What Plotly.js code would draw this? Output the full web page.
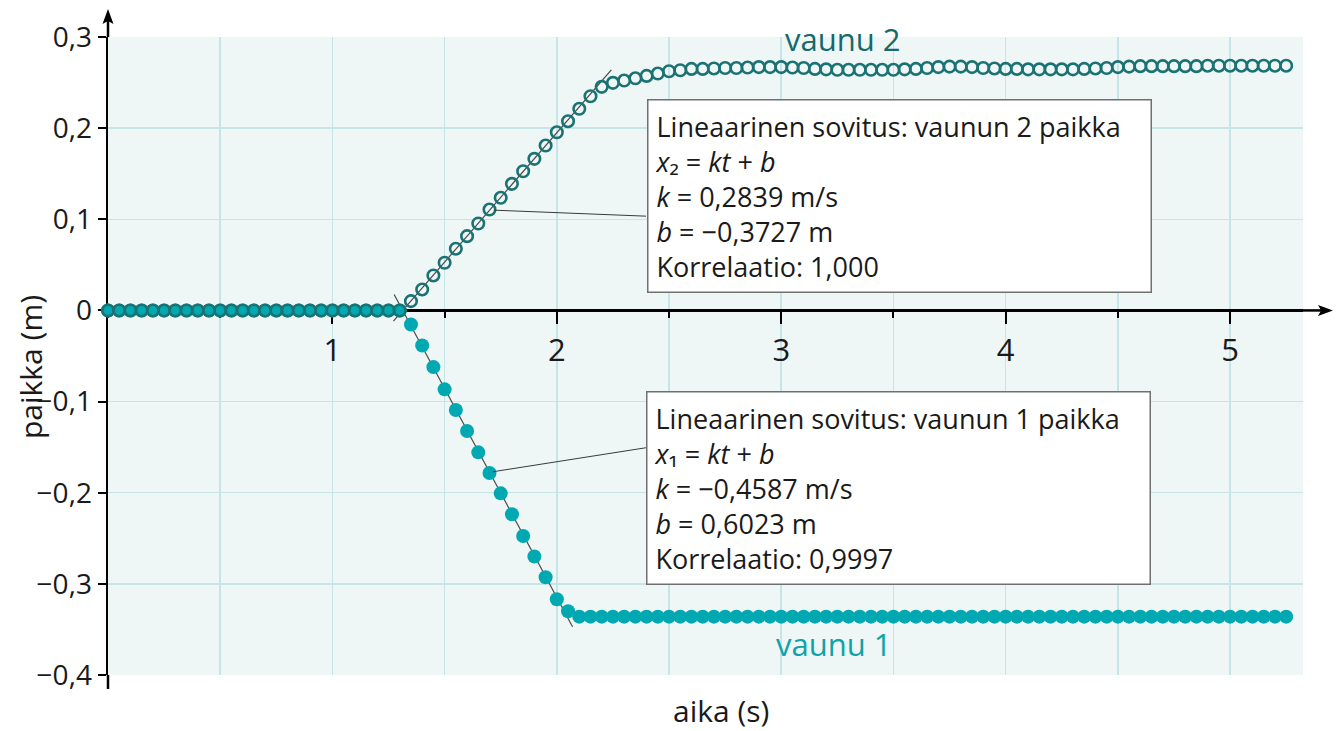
<!DOCTYPE html>
<html>
<head>
<meta charset="utf-8">
<script src="https://cdn.plot.ly/plotly-3.0.1.min.js"></script>
<style>html,body{margin:0;padding:0;background:#fff;}#chart{width:1342px;height:731px;}</style>
</head>
<body>
<div id="chart"></div>
<script>
// time (s), sampled every 0.05 s
const time = [
 0.00,0.05,0.10,0.15,0.20,0.25,0.30,0.35,0.40,0.45,0.50,0.55,0.60,0.65,0.70,0.75,0.80,0.85,0.90,0.95,
 1.00,1.05,1.10,1.15,1.20,1.25,1.30,1.35,1.40,1.45,1.50,1.55,1.60,1.65,1.70,1.75,1.80,1.85,1.90,1.95,
 2.00,2.05,2.10,2.15,2.20,2.25,2.30,2.35,2.40,2.45,2.50,2.55,2.60,2.65,2.70,2.75,2.80,2.85,2.90,2.95,
 3.00,3.05,3.10,3.15,3.20,3.25,3.30,3.35,3.40,3.45,3.50,3.55,3.60,3.65,3.70,3.75,3.80,3.85,3.90,3.95,
 4.00,4.05,4.10,4.15,4.20,4.25,4.30,4.35,4.40,4.45,4.50,4.55,4.60,4.65,4.70,4.75,4.80,4.85,4.90,4.95,
 5.00,5.05,5.10,5.15,5.20,5.25
];
// vaunu 1 position (m)
const vaunu1 = [
 0,0,0,0,0,0,0,0,0,0,0,0,0,0,0,0,0,0,0,0,
 0,0,0,0,0,0,0,-0.0155,-0.0385,-0.0622,-0.0866,-0.1093,-0.1323,-0.1557,-0.1784,-0.2007,-0.2237,-0.2475,-0.2700,-0.2928,
 -0.3169,-0.3300,-0.336,-0.336,-0.336,-0.336,-0.336,-0.336,-0.336,-0.336,-0.336,-0.336,-0.336,-0.336,-0.336,-0.336,-0.336,-0.336,-0.336,-0.336,
 -0.336,-0.336,-0.336,-0.336,-0.336,-0.336,-0.336,-0.336,-0.336,-0.336,-0.336,-0.336,-0.336,-0.336,-0.336,-0.336,-0.336,-0.336,-0.336,-0.336,
 -0.336,-0.336,-0.336,-0.336,-0.336,-0.336,-0.336,-0.336,-0.336,-0.336,-0.336,-0.336,-0.336,-0.336,-0.336,-0.336,-0.336,-0.336,-0.336,-0.336,
 -0.336,-0.336,-0.336,-0.336,-0.336,-0.336
];
// vaunu 2 position (m)
const vaunu2 = [
 0,0,0,0,0,0,0,0,0,0,0,0,0,0,0,0,0,0,0,0,
 0,0,0,0,0,0,0,0.0102,0.0230,0.0384,0.0523,0.0677,0.0815,0.0954,0.1107,0.1236,0.1389,0.1527,0.1663,0.1809,
 0.1955,0.2076,0.2212,0.2350,0.2453,0.2497,0.2522,0.2547,0.2573,0.2599,0.2624,0.2635,0.265,0.265,0.2655,0.266,0.266,0.2665,0.267,0.267,
 0.267,0.2665,0.266,0.265,0.2645,0.264,0.264,0.264,0.264,0.264,0.264,0.2645,0.265,0.266,0.267,0.2675,0.2675,0.267,0.266,0.2655,
 0.265,0.265,0.2645,0.2645,0.2645,0.2645,0.2645,0.265,0.2655,0.266,0.267,0.2675,0.268,0.268,0.268,0.268,0.268,0.268,0.2685,0.2685,
 0.2685,0.2685,0.2685,0.2685,0.2685,0.2685
];
// fitted lines (end points)
const fit1T = [1.275, 2.07];
const fit1X = [0.0175, -0.347];
const fit2T = [1.272, 2.243];
const fit2X = [-0.0117, 0.264];
// fit results
const fit1Params = ['−0,4587', '0,6023', '0,9997'];
const fit2Params = ['0,2839', '−0,3727', '1,000'];
const subscripts = {1: '₁', 2: '₂'};
// axis ticks
const xTickVals = [1, 2, 3, 4, 5];
const xTickText = ['1', '2', '3', '4', '5'];
const yTickVals = [0.3, 0.2, 0.1, 0, -0.1, -0.2, -0.3, -0.4];
const yTickText = ['0,3', '0,2', '0,1', '0', '−0,1', '−0,2', '−0,3', '−0,4'];

const C1 = '#00a9b1';
const C2 = '#1b7273';
const GRID = '#c6e5e8';
const FONT = 'Open Sans, Noto Sans, sans-serif';
const TXT = '#1a1a1a';

const traces = [
  {x: fit1T, y: fit1X, mode: 'lines', line: {color: '#4a4a4a', width: 1.2}, hoverinfo: 'skip', cliponaxis: false},
  {x: fit2T, y: fit2X, mode: 'lines', line: {color: '#4a4a4a', width: 1.2}, hoverinfo: 'skip', cliponaxis: false},
  {x: time, y: vaunu1, name: 'vaunu 1', mode: 'markers', cliponaxis: false,
   marker: {symbol: 'circle', size: 14, color: C1, line: {width: 0}}},
  {x: time, y: vaunu2, name: 'vaunu 2', mode: 'markers', cliponaxis: false,
   marker: {symbol: 'circle-open', size: 11.5, color: C2, line: {width: 2.6, color: C2}}}
];

function boxText(n, p) {
  return 'Lineaarinen sovitus: vaunun ' + n + ' paikka<br>' +
    '<i>x</i>' + subscripts[n] + ' = <i>kt</i> + <i>b</i><br>' +
    '<i>k</i> = ' + p[0] + ' m/s<br>' +
    '<i>b</i> = ' + p[1] + ' m<br>' +
    'Korrelaatio: ' + p[2];
}

const yZeroPaper = 0.4 / 0.7;

const layout = {
  width: 1342, height: 731,
  margin: {l: 108, r: 39, t: 37, b: 56, pad: 0},
  paper_bgcolor: '#ffffff',
  plot_bgcolor: '#eff6f6',
  showlegend: false,
  font: {family: FONT, color: TXT},
  xaxis: {
    range: [0, 5.325], anchor: 'free', position: yZeroPaper,
    showline: true, linecolor: '#000', linewidth: 2.5, layer: 'below traces',
    tickmode: 'array', tickvals: xTickVals, ticktext: xTickText,
    ticks: 'outside', ticklen: 12, tickwidth: 2, tickcolor: '#000',
    tickfont: {family: FONT, size: 31, color: TXT},
    showgrid: true, gridcolor: GRID, gridwidth: 1.5, zeroline: false,
    minor: {tick0: 0, dtick: 0.5, ticks: 'outside', ticklen: 6, tickwidth: 2, tickcolor: '#000',
            showgrid: true, gridcolor: GRID, gridwidth: 1.5},
    fixedrange: true
  },
  yaxis: {
    range: [-0.4, 0.3],
    showline: true, linecolor: '#000', linewidth: 2.5, layer: 'below traces',
    tickmode: 'array', tickvals: yTickVals, ticktext: yTickText,
    ticks: 'outside', ticklen: 8, tickwidth: 2, tickcolor: '#000',
    tickfont: {family: FONT, size: 28, color: TXT},
    showgrid: true, gridcolor: GRID, gridwidth: 1.5, zeroline: false,
    fixedrange: true
  },
  annotations: [
    {xref: 'x', yref: 'y', x: 2.402, y: 0.2325, xanchor: 'left', yanchor: 'top', showarrow: false,
     text: boxText(2, fit2Params), align: 'left', bgcolor: '#ffffff', bordercolor: '#707070',
     borderwidth: 1.5, borderpad: 7, width: 488, font: {family: FONT, size: 27, color: TXT}},
    {xref: 'x', yref: 'y', x: 2.398, y: -0.0884, xanchor: 'left', yanchor: 'top', showarrow: false,
     text: boxText(1, fit1Params), align: 'left', bgcolor: '#ffffff', bordercolor: '#707070',
     borderwidth: 1.5, borderpad: 7, width: 488, font: {family: FONT, size: 27, color: TXT}},
    {xref: 'x', yref: 'y', x: 3.275, y: 0.2978, xanchor: 'center', yanchor: 'middle', text: 'vaunu 2', showarrow: false,
     font: {family: FONT, size: 31, color: '#146a6c'}},
    {xref: 'x', yref: 'y', x: 3.235, y: -0.366, xanchor: 'center', yanchor: 'middle', text: 'vaunu 1', showarrow: false,
     font: {family: FONT, size: 31, color: '#0ea3a9'}},
    {xref: 'paper', yref: 'paper', x: 0.513, y: -0.0564, xanchor: 'center', yanchor: 'middle', text: 'aika (s)', showarrow: false,
     font: {family: FONT, size: 30, color: TXT}},
    {xref: 'paper', yref: 'paper', x: -0.0644, y: 0.4828, xanchor: 'center', yanchor: 'middle', text: 'paikka (m)', showarrow: false,
     textangle: -90, font: {family: FONT, size: 30, color: TXT}}
  ],
  shapes: [
    // leader lines from the fit boxes
    {type: 'line', xref: 'x', yref: 'y', xsizemode: 'pixel', ysizemode: 'pixel', xanchor: 1.72, yanchor: 0.11,
     x0: 0, y0: 0, x1: 152, y1: -6, line: {color: '#3a3a3a', width: 1}},
    {type: 'line', xref: 'x', yref: 'y', xsizemode: 'pixel', ysizemode: 'pixel', xanchor: 1.715, yanchor: -0.177,
     x0: 0, y0: 0, x1: 153, y1: 24, line: {color: '#3a3a3a', width: 1}},
    // y axis extensions
    {type: 'line', xref: 'paper', yref: 'paper', x0: 0, x1: 0, y0: 1, y1: 1.0251, line: {color: '#000', width: 2.5}},
    {type: 'line', xref: 'paper', yref: 'paper', x0: 0, x1: 0, y0: 0, y1: -0.0219, line: {color: '#000', width: 2.5}},
    {type: 'path', xref: 'paper', yref: 'paper', fillcolor: '#000', line: {width: 0},
     path: 'M 0 1.0439 L -0.0046 1.0204 L 0 1.0251 L 0.0046 1.0204 Z'},
    // x axis extension
    {type: 'line', xref: 'paper', yref: 'paper', x0: 1, x1: 1.0151, y0: yZeroPaper, y1: yZeroPaper, line: {color: '#000', width: 2.5}},
    {type: 'path', xref: 'paper', yref: 'paper', fillcolor: '#000', line: {width: 0},
     path: 'M 1.0251 0.5714 L 1.01255 0.5801 L 1.0151 0.5714 L 1.01255 0.5628 Z'}
  ]
};

Plotly.newPlot('chart', traces, layout, {displayModeBar: false, staticPlot: true});
</script>
</body>
</html>
